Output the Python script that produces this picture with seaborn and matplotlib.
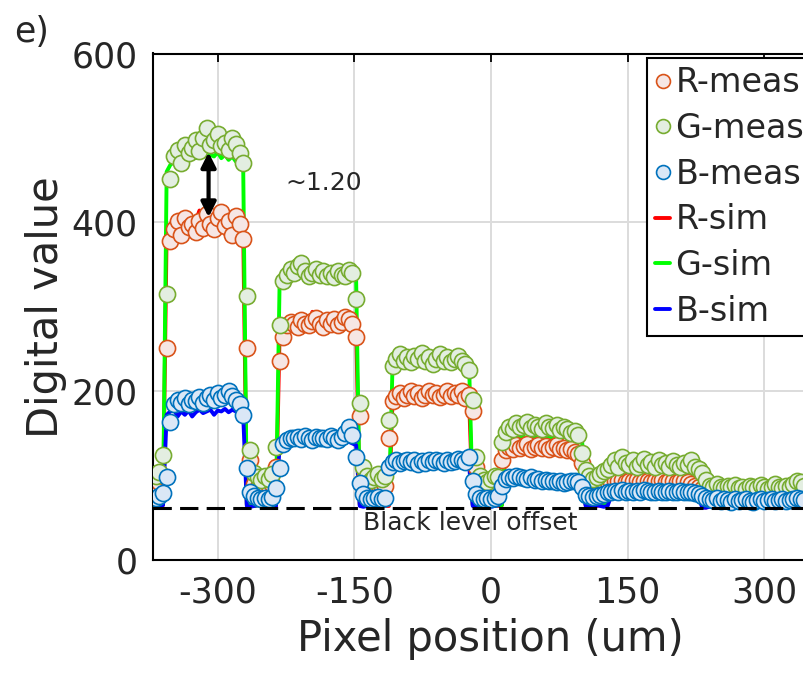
import numpy as np
import pandas as pd
import matplotlib
matplotlib.use("Agg")
import matplotlib.pyplot as plt
from matplotlib.lines import Line2D
import seaborn as sns

# ---------------- data ----------------
# sample positions (um), 4 um pitch
pixel_pos = np.arange(-368, 345, 4)

r_meas = [88, 92, 100,  251, 378,
          392, 402, 385, 405, 395, 398, 388, 402, 393, 410, 398, 392, 405, 412, 396, 402, 385, 408, 398,
          380, 251, 118,
          90, 86, 88, 85, 88, 90,
          110, 236,
          264, 278, 282, 280, 276, 284, 280, 278, 283, 287, 280, 276, 284, 280, 286, 278, 282, 288, 285, 280,
          264, 170,
          95, 88, 85, 88, 90, 86, 88,
          145,
          188, 194, 198, 192, 196, 200, 194, 198, 192, 196, 200, 195, 198, 193, 196, 200, 194, 198, 195, 200, 192,
          195, 176, 110,
          88, 85, 84, 86, 88, 87,
          119,
          130, 134, 132, 136, 133, 135, 137, 132, 134, 136, 133, 135, 132, 134, 136, 131, 133, 130, 132, 128, 126,
          115, 95,
          88, 86, 87, 88, 90, 92,
          92, 94, 93, 95, 92, 94, 93, 95, 92, 94, 93, 92, 94, 93, 95, 92, 93, 94, 92, 93, 94, 92, 90, 88, 86,
          84, 82,
          80, 79, 80, 78, 79, 80, 78, 79, 80, 78, 79, 78, 80, 79, 78, 79, 80, 78, 79, 80, 78, 79, 80, 81, 80, 79, 78]

g_meas = [100, 104, 124,  315, 451,
          478, 486, 470, 492, 482, 488, 497, 485, 500, 512, 492, 498, 505, 490, 494, 486, 500, 493, 482,
          470, 313, 130,
          103, 98, 95, 100, 96, 102,
          134, 278,
          330, 338, 345, 340, 348, 352, 342, 336, 340, 345, 338, 342, 336, 340, 335, 342, 338, 336, 343, 340,
          309, 186,
          110, 100, 95, 98, 102, 96, 100,
          166,
          230, 238, 244, 236, 240, 234, 242, 238, 245, 236, 240, 232, 238, 244, 236, 240, 234, 238, 242, 236, 232,
          225, 190, 122,
          100, 95, 92, 96, 100, 98,
          140,
          152, 158, 155, 162, 158, 160, 164, 156, 160, 158, 155, 162, 158, 156, 160, 154, 158, 155, 150, 153, 148,
          127, 107,
          100, 96, 98, 102, 105, 108,
          112, 118, 110, 122, 115, 112, 118, 110, 114, 120, 112, 116, 110, 118, 112, 115, 110, 117, 113, 110, 115, 112, 118, 110, 108,
          103, 95,
          88, 86, 90, 87, 85, 88, 86, 89, 85, 87, 84, 88, 86, 85, 89, 86, 84, 87, 90, 86, 85, 88, 87, 90, 94, 92, 88]

b_meas = [74, 76, 79,  98, 164,
          185, 190, 186, 192, 185, 190, 188, 193, 186, 192, 195, 190, 198, 192, 196, 200, 194, 190, 185,
          172, 109, 80,
          76, 73, 72, 74, 72, 75,
          85, 109,
          138, 142, 145, 144, 146, 143, 147, 145, 142, 146, 144, 145, 143, 147, 145, 142, 146, 150, 157, 148,
          122, 91,
          78, 74, 72, 73, 75, 72, 74,
          110,
          116, 118, 115, 117, 119, 116, 118, 114, 117, 115, 118, 116, 119, 117, 115, 118, 116, 117, 120, 118, 116,
          122, 93, 78,
          74, 72, 73, 72, 74, 76,
          88,
          96, 98, 97, 99, 98, 97, 96, 98, 95, 96, 94, 95, 93, 94, 92, 93, 91, 92, 93, 94, 92,
          86, 77,
          76, 75, 76, 77, 78, 80,
          81, 82, 80, 83, 81, 82, 80, 82, 81, 83, 82, 80, 81, 82, 80, 81, 82, 80, 81, 82, 80, 81, 80, 79, 78,
          76, 74,
          72, 71, 73, 70, 72, 71, 69, 72, 70, 71, 72, 70, 69, 71, 72, 70, 71, 72, 70, 71, 72, 70, 71, 72, 73, 72, 71]

r_sim = [64, 64, 65,
         390, 398, 402, 396, 400, 404, 398, 395, 402, 414, 400, 396, 402, 398, 395, 400, 386, 398, 402, 396, 392,
         390,
         65, 64, 64, 65, 64, 65, 64, 65, 64,
         268,
         276, 280, 278, 282, 280, 278, 281, 279, 294, 280, 278, 282, 279, 281, 278, 280, 282, 279, 280, 278,
         276,
         65, 64, 65, 64, 65, 64, 65, 64,
         64,
         190, 193, 195, 192, 194, 193, 196, 192, 194, 195, 193, 192, 194, 196, 193, 195, 192, 194, 193, 195, 192, 190,
         65, 64, 65, 64, 65, 64, 65, 64, 65,
         126, 128, 130, 128, 129, 130, 128, 127, 129, 130, 128, 129, 127, 128, 130, 128, 127, 128, 126, 127, 125,
         124,
         65, 64, 65, 64, 65, 64, 65,
         86, 87, 86, 88, 87, 86, 88, 87, 86, 87, 88, 86, 87, 88, 86, 87, 86, 88, 87, 86, 87, 86, 85, 86, 85,
         63, 62,
         64, 65, 66, 68, 70, 71, 72, 72, 71, 72, 73, 72, 71, 72, 73, 72, 71, 72, 73, 72, 71, 72, 73, 72, 71, 72, 71]

g_sim = [65, 65, 66,
         460, 468, 472, 475, 470, 478, 474, 480, 476, 482, 478, 484, 480, 478, 483, 476, 480, 474, 478, 472, 470,
         468,
         66, 65, 64, 65, 66, 64, 65, 66, 65,
         330,
         332, 335, 338, 336, 340, 338, 335, 337, 340, 336, 338, 335, 337, 339, 336, 338, 335, 337, 336, 334,
         332,
         66, 65, 64, 66, 65, 64, 65, 66,
         66,
         232, 235, 236, 234, 237, 235, 238, 236, 234, 237, 235, 236, 238, 235, 237, 234, 236, 235, 237, 234, 233, 232,
         66, 65, 64, 65, 66, 65, 64, 65,
         65,
         144, 146, 145, 147, 145, 146, 144, 146, 145, 147, 145, 144, 146, 145, 147, 144, 146, 145, 144, 146, 143,
         142,
         66, 65, 64, 65, 66, 65, 66,
         100, 102, 101, 103, 100, 102, 101, 103, 100, 102, 101, 100, 102, 101, 103, 100, 102, 101, 100, 102, 101, 100, 101, 100, 99,
         66, 65,
         66, 65, 66, 68, 70, 72, 74, 75, 74, 75, 76, 75, 74, 75, 76, 75, 74, 75, 76, 75, 74, 75, 76, 75, 74, 75, 74]

b_sim = [64, 64, 65,
         172, 176, 178, 170, 176, 172, 177, 170, 175, 178, 174, 176, 178, 172, 177, 176, 179, 175, 178, 176, 174,
         172,
         64, 63, 64, 65, 64, 63, 64, 65, 64,
         135,
         137, 138, 136, 138, 137, 139, 136, 138, 137, 136, 138, 137, 139, 136, 138, 137, 138, 139, 140, 138,
         136,
         64, 63, 64, 65, 64, 63, 64, 65,
         108,
         112, 113, 112, 114, 113, 112, 114, 113, 112, 113, 114, 112, 113, 114, 112, 113, 114, 113, 112, 114, 113, 112,
         64, 63, 64, 65, 64, 63, 64, 65,
         88,
         92, 93, 92, 94, 93, 92, 93, 91, 92, 93, 91, 92, 90, 91, 90, 89, 90, 89, 90, 89, 88,
         86,
         64, 63, 64, 65, 64, 63, 64,
         76, 77, 76, 78, 77, 76, 77, 78, 76, 77, 76, 78, 77, 76, 77, 76, 78, 77, 76, 77, 76, 77, 76, 75, 74,
         62, 62,
         63, 64, 65, 66, 67, 68, 68, 67, 68, 69, 68, 67, 68, 69, 68, 67, 68, 69, 68, 67, 68, 69, 68, 67, 68, 67, 68]

black_level = 62
x_ticks = [-300, -150, 0, 150, 300]
y_ticks = [0, 200, 400, 600]

# ---------------- style ----------------
sns.set_theme(style="white")
plt.rcParams["font.family"] = ["DejaVu Sans"]
plt.rcParams["axes.unicode_minus"] = False

meas_style = {
    "R-meas": ("#F6E6E4", "#D95319"),
    "G-meas": ("#E3EEE1", "#77AC30"),
    "B-meas": ("#DAE7F6", "#0072BD"),
}
sim_style = {"R-sim": "#FF0000", "G-sim": "#00FF00", "B-sim": "#0000FF"}

df = pd.DataFrame({
    "pos": pixel_pos,
    "R-meas": r_meas, "G-meas": g_meas, "B-meas": b_meas,
    "R-sim": r_sim, "G-sim": g_sim, "B-sim": b_sim,
})

fig = plt.figure(figsize=(8.04, 6.76), dpi=100)
ax = fig.add_axes([153 / 804, 116 / 676, 675 / 804, 506.5 / 676])

# simulated curves (under markers)
for i, (name, col) in enumerate(sim_style.items()):
    sns.lineplot(data=df, x="pos", y=name, ax=ax, color=col, lw=2.8,
                 sort=False, estimator=None, zorder=2 + i * 0.1, legend=False)

# measured points
for i, (name, (face, edge)) in enumerate(meas_style.items()):
    sns.scatterplot(data=df, x="pos", y=name, ax=ax, s=135, color=face,
                    edgecolor=edge, linewidth=1.2, zorder=3 + i, legend=False)

ax.axhline(black_level, color="black", lw=2.2, ls=(0, (6, 2.7)), zorder=6)

ax.set_xlim(-371, 370)
ax.set_ylim(0, 600)
ax.set_xticks(x_ticks)
ax.set_yticks(y_ticks)
ax.grid(True, color="#DCDCDC", lw=1.4)
ax.set_axisbelow(True)
for sp in ax.spines.values():
    sp.set_color("black")
    sp.set_linewidth(1.5)
ax.tick_params(direction="in", length=6, width=1.3, top=True, right=True,
               labelsize=25, pad=11, colors="black", labelcolor="#262626")
ax.set_xlabel("Pixel position (um)", fontsize=30, labelpad=6, color="#262626")
ax.set_ylabel("Digital value", fontsize=30, color="#262626")
ax.yaxis.set_label_coords(-0.128, 0.5)

# annotations
ax.annotate("", xy=(-310, 406), xytext=(-310, 483),
            arrowprops=dict(arrowstyle="<|-|>", color="black", lw=3,
                            mutation_scale=22, shrinkA=0, shrinkB=0), zorder=7)
ax.text(-226, 447, "~1.20", fontsize=18, va="center", ha="left", zorder=7)
ax.text(-141, 44, "Black level offset", fontsize=18, va="center", ha="left", zorder=7)
fig.text(14 / 804, 1 - 15 / 676, "e)", fontsize=25, va="top", ha="left")

handles = []
for name, (face, edge) in meas_style.items():
    handles.append(Line2D([], [], ls="none", marker="o", markersize=10,
                          markerfacecolor=face, markeredgecolor=edge, markeredgewidth=1.2, label=name))
for name, col in sim_style.items():
    handles.append(Line2D([], [], color=col, lw=2.8, label=name))
leg = ax.legend(handles=handles, loc="upper left", bbox_to_anchor=(647 / 804, 1 - 58 / 676),
                bbox_transform=fig.transFigure, fontsize=24, frameon=True, fancybox=False,
                edgecolor="black", framealpha=1, handlelength=0.45, handletextpad=0.15,
                labelspacing=0.38, borderpad=0.25, borderaxespad=0)
leg.get_frame().set_linewidth(1.5)
leg.set_zorder(10)

fig.savefig("out.png", dpi=100)
